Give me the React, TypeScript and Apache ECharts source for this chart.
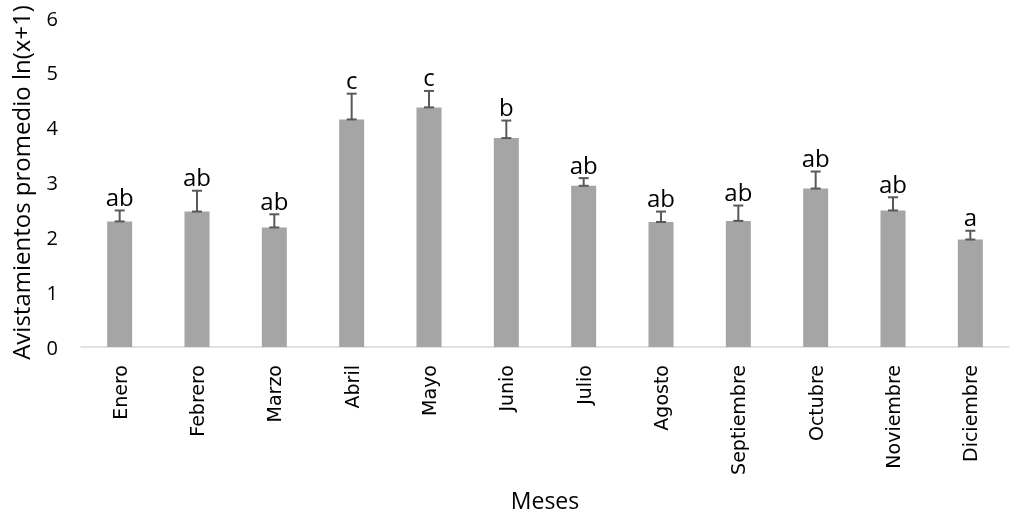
import React, { useEffect, useRef } from "react";
import * as echarts from "echarts";

const months = ["Enero", "Febrero", "Marzo", "Abril", "Mayo", "Junio", "Julio", "Agosto", "Septiembre", "Octubre", "Noviembre", "Diciembre"];
const means = [2.29, 2.47, 2.18, 4.15, 4.37, 3.81, 2.94, 2.28, 2.30, 2.89, 2.49, 1.96];
const errors = [0.20, 0.38, 0.24, 0.47, 0.30, 0.32, 0.14, 0.19, 0.28, 0.31, 0.24, 0.16];
const letters = ["ab", "ab", "ab", "c", "c", "b", "ab", "ab", "ab", "ab", "ab", "a"];
const yTicks = [0, 1, 2, 3, 4, 5, 6];

export default function App() {
  const ref = useRef<HTMLDivElement>(null);
  useEffect(() => {
    if (!ref.current) return;
    const chart = echarts.init(ref.current, undefined, { renderer: "svg" });
    const font = "Open Sans";
    chart.setOption({
      animation: false,
      grid: { left: 80, right: 14, top: 18, bottom: 168 },
      xAxis: {
        type: "category",
        data: months,
        axisLine: { show: true, lineStyle: { color: "#d9d9d9", width: 1.5 } },
        axisTick: { show: false },
        axisLabel: { rotate: 90, margin: 18, fontSize: 19, color: "#000", fontFamily: "DejaVu Sans" },
        name: "Meses",
        nameLocation: "middle",
        nameGap: 141,
        nameTextStyle: { fontSize: 23, color: "#000", fontFamily: font },
      },
      yAxis: {
        type: "value",
        min: yTicks[0],
        max: yTicks[yTicks.length - 1],
        interval: 1,
        splitLine: { show: false },
        axisLine: { show: false },
        axisTick: { show: false },
        axisLabel: { margin: 23, fontSize: 20, color: "#000", fontFamily: font },
        name: "Avistamientos promedio ln(x+1)",
        nameLocation: "middle",
        nameGap: 49,
        nameTextStyle: { fontSize: 24, color: "#000", fontFamily: font },
      },
      series: [
        {
          type: "bar",
          data: means,
          barWidth: 25,
          itemStyle: { color: "#a5a5a5" },
        },
        {
          type: "custom",
          data: means.map((m, i) => [i, m, m + errors[i]]),
          z: 10,
          renderItem: (params: any, api: any) => {
            const i = api.value(0);
            const lo = api.coord([i, api.value(1)]);
            const hi = api.coord([i, api.value(2)]);
            const x = lo[0];
            const cap = 5;
            const st = { stroke: "#595959", lineWidth: 2 };
            return {
              type: "group",
              children: [
                { type: "line", shape: { x1: x, y1: lo[1], x2: x, y2: hi[1] }, style: st },
                { type: "line", shape: { x1: x - cap, y1: hi[1], x2: x + cap, y2: hi[1] }, style: st },
                { type: "line", shape: { x1: x - cap, y1: lo[1], x2: x + cap, y2: lo[1] }, style: st },
                {
                  type: "text",
                  x: x,
                  y: hi[1] - 14,
                  style: {
                    text: letters[params.dataIndex],
                    fontSize: 24,
                    fontFamily: font,
                    fill: "#000",
                    align: "center",
                    verticalAlign: "middle",
                  },
                },
              ],
            };
          },
        },
      ],
    });
    return () => chart.dispose();
  }, []);
  return <div ref={ref} style={{ position: "fixed", left: 0, top: 0, width: 1023, height: 516 }} />;
}
